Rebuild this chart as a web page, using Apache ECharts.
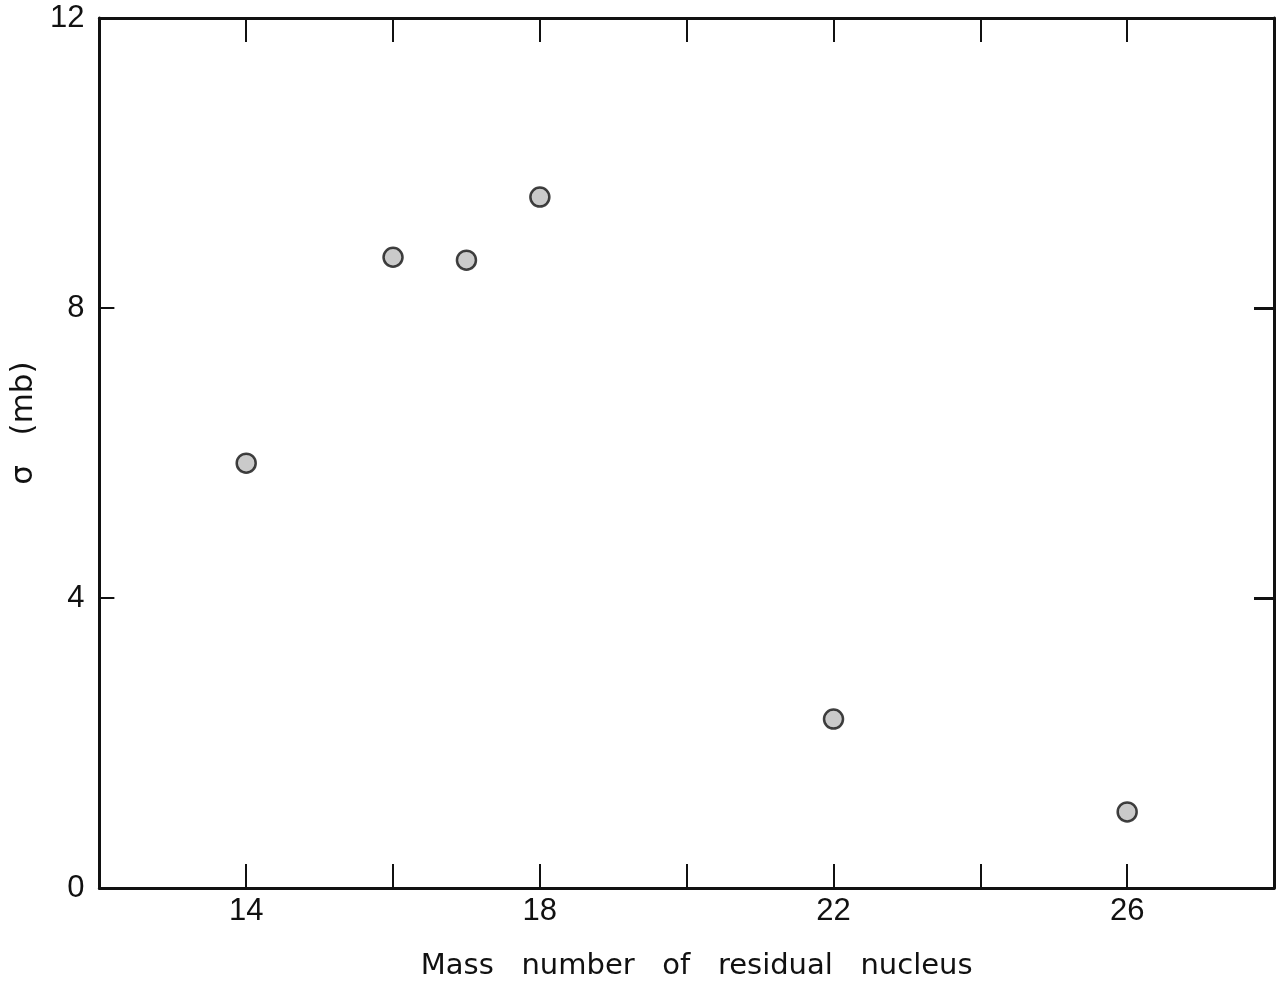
<!DOCTYPE html>
<html>
<head>
<meta charset="utf-8">
<script src="https://cdn.jsdelivr.net/npm/echarts@6/dist/echarts.min.js"></script>
<style>
  html, body { margin: 0; padding: 0; background: #fff; }
  #chart { width: 1279px; height: 986px; }
</style>
</head>
<body>
<div id="chart"></div>
<script>
// mass number of residual nucleus vs cross section (mb)
const massNumbers = [14, 16, 17, 18, 22, 26]
const sigmaValues = [5.86, 8.70, 8.66, 9.53, 2.33, 1.05]
const xLabelTicks = [14, 18, 22, 26]

const points = massNumbers.map((m, i) => [m, sigmaValues[i]])

const tickFont = {
  fontFamily: 'Liberation Sans',
  fontSize: 31,
  color: '#111'
}
const nameFont = {
  fontFamily: 'DejaVu Sans',
  fontSize: 29,
  color: '#111'
}
const lineStyle = { color: '#111', width: 3 }

let chart = echarts.init(document.getElementById('chart'))
chart.setOption({
  animation: false,
  backgroundColor: '#fff',
  grid: {
    left: 98,
    right: 5,
    top: 18,
    bottom: 98
  },
  xAxis: [
    {
      type: 'value',
      min: 12,
      max: 28,
      interval: 2,
      position: 'bottom',
      name: 'Mass   number   of   residual   nucleus',
      nameLocation: 'middle',
      nameGap: 64,
      nameTextStyle: Object.assign({}, nameFont, { padding: [0, 0, 0, 20] }),
      axisLine: { onZero: false, lineStyle: lineStyle },
      axisTick: { inside: true, length: 24, lineStyle: { color: '#111', width: 2 } },
      axisLabel: Object.assign({}, tickFont, {
        margin: 8,
        formatter: function (v) {
          return xLabelTicks.indexOf(v) >= 0 ? String(v) : ''
        }
      }),
      splitLine: { show: false }
    },
    {
      type: 'value',
      min: 12,
      max: 28,
      interval: 2,
      position: 'top',
      axisLine: { onZero: false, lineStyle: lineStyle },
      axisTick: { inside: true, length: 24, lineStyle: { color: '#111', width: 2 } },
      axisLabel: { show: false },
      splitLine: { show: false }
    }
  ],
  yAxis: [
    {
      type: 'value',
      min: 0,
      max: 12,
      interval: 4,
      position: 'left',
      name: 'σ   (mb)',
      nameLocation: 'middle',
      nameGap: 54,
      nameRotate: 90,
      nameTextStyle: Object.assign({}, nameFont, { fontSize: 31, padding: [0, 0, 0, 60] }),
      axisLine: { onZero: false, lineStyle: lineStyle },
      axisTick: { inside: true, length: 15, lineStyle: { color: '#111', width: 2 } },
      axisLabel: Object.assign({}, tickFont, { margin: 15 }),
      splitLine: { show: false }
    },
    {
      type: 'value',
      min: 0,
      max: 12,
      interval: 4,
      position: 'right',
      axisLine: { onZero: false, lineStyle: lineStyle },
      axisTick: { inside: true, length: 20, lineStyle: { color: '#111', width: 3 } },
      axisLabel: { show: false },
      splitLine: { show: false }
    }
  ],
  series: [
    {
      type: 'scatter',
      xAxisIndex: 0,
      yAxisIndex: 0,
      data: points,
      symbol: 'circle',
      symbolSize: 19,
      itemStyle: {
        color: '#bdbdbd',
        borderColor: '#111',
        borderWidth: 2.5
      }
    }
  ]
})
</script>
</body>
</html>
